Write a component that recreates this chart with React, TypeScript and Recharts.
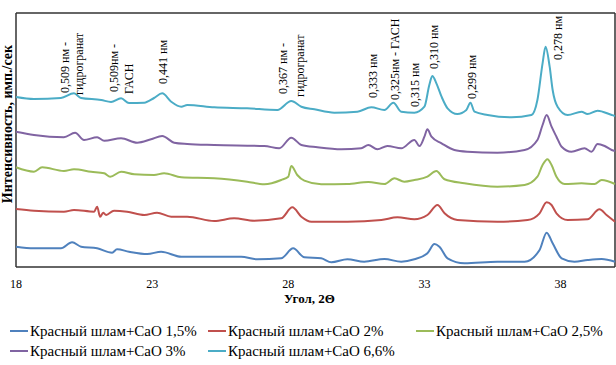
import { LineChart, Line, XAxis, YAxis, ReferenceDot, CartesianGrid, ReferenceLine } from 'recharts'

// angle 2θ and intensity (arbitrary units, curves are offset) for each sample
const ANGLE_15 = [18, 18.66, 19.65, 20.06, 20.39, 20.98, 21.53, 21.71, 22.15, 22.82, 23.33, 24.07, 25.28, 26.27, 26.86, 27.74, 28.18, 28.59, 29.21, 29.58, 30.17, 30.79, 31.53, 32.15, 32.63, 33.11, 33.37, 33.55, 33.85, 34.47, 35.68, 36.68, 37.23, 37.49, 37.71, 38.04, 38.51, 38.99, 39.51, 40]
const INT_15 = [20.3, 18.7, 18.7, 24.7, 20.3, 18.7, 14.3, 17.7, 15.3, 13, 15.3, 10.3, 10.3, 10.3, 7.7, 8.7, 18.7, 9.7, 8.7, 4.7, 7.7, 5.3, 8, 5.3, 7.7, 13.7, 23, 20.3, 8.7, 3.7, 5.3, 5.3, 17, 34.3, 23.7, 8.7, 5.3, 7, 8, 5.3]

const ANGLE_2 = [18, 18.66, 19.76, 20.13, 20.87, 20.98, 21.09, 21.2, 21.31, 21.6, 22.08, 22.71, 23.18, 23.7, 24.29, 25.28, 26.01, 26.75, 27.74, 28.15, 28.48, 28.85, 30.17, 31.42, 32.01, 32.63, 33.11, 33.48, 33.74, 34.21, 35.68, 36.79, 37.23, 37.49, 37.67, 37.85, 38.26, 38.99, 39.43, 39.69, 40]
const INT_2 = [58, 56.3, 55.3, 57, 55.3, 60.3, 50.3, 54.3, 52, 56.3, 55.3, 52, 54.3, 50.3, 50.3, 46, 48.7, 46.3, 48.7, 59.7, 50.3, 45.3, 45.3, 47, 49.7, 47.7, 52, 62, 53.7, 47, 45.3, 47, 53.7, 64.7, 62, 53.7, 47, 47.7, 57.7, 52, 45.3]

const ANGLE_25 = [18, 18.66, 18.96, 19.76, 20.13, 20.76, 21.24, 21.46, 21.86, 22.34, 23.07, 23.44, 24.07, 25.28, 26.49, 27.12, 27.74, 28, 28.11, 28.33, 28.59, 29.21, 30.17, 30.94, 31.53, 31.9, 32.26, 32.63, 33.11, 33.44, 33.74, 34.47, 35.68, 36.68, 37.15, 37.34, 37.52, 37.67, 37.85, 38.15, 38.77, 39.25, 39.51, 40]
const INT_25 = [99.7, 95.3, 99.7, 96, 97.7, 95.3, 93.7, 90.3, 95.3, 92.7, 92, 93.7, 89.7, 88.7, 85.3, 82.7, 87, 90.3, 101, 92, 86.3, 82.7, 83, 85, 83, 88.7, 85.3, 87, 90.3, 96, 87.7, 83.7, 80.3, 82, 90.3, 102, 107.7, 102, 90.3, 83, 83.7, 83, 87, 83]

const ANGLE_3 = [18, 18.66, 19.76, 20.17, 20.5, 20.98, 21.24, 21.86, 22.45, 22.96, 23.37, 23.81, 24.29, 25.28, 27.12, 27.67, 28.11, 28.48, 29.07, 29.95, 30.68, 30.94, 31.27, 31.64, 32.15, 32.63, 32.82, 33, 33.11, 33.26, 33.63, 34.1, 34.58, 35.68, 36.68, 37.15, 37.34, 37.49, 37.67, 37.85, 38.04, 38.4, 38.88, 39.14, 39.36, 39.62, 39.88, 40]
const INT_3 = [135.3, 132, 129.7, 134.3, 127, 129.7, 126.3, 128.7, 124.3, 127.7, 131, 124.3, 123, 122, 121, 118.7, 129.3, 122, 119.7, 117.7, 118.7, 122, 117.7, 121, 118.7, 127, 121, 130.3, 137.7, 130.3, 123.7, 117, 115.3, 114.3, 117, 127, 142, 152, 140.3, 130.3, 120.3, 115.3, 118.7, 115.3, 123, 121, 117, 116]

const ANGLE_66 = [18, 18.66, 19.65, 20.13, 20.39, 21.13, 21.49, 21.86, 22.15, 22.71, 23.07, 23.37, 23.7, 24.07, 24.29, 25.28, 26.49, 27.6, 28.11, 28.48, 28.96, 29.69, 30.54, 31.05, 31.53, 31.86, 32.15, 32.63, 33, 33.18, 33.29, 33.44, 33.63, 33.85, 34.21, 34.54, 34.69, 34.84, 35.32, 36.2, 36.93, 37.15, 37.34, 37.45, 37.6, 37.71, 37.89, 38.26, 38.77, 38.99, 39.36, 39.88, 40]
const INT_66 = [170, 168, 169, 173.7, 169, 167, 165, 168.7, 164, 164.3, 169, 173.7, 165.3, 160.3, 162, 159.7, 158.7, 157, 166, 160.3, 157.7, 154.3, 155.3, 159.7, 157, 164.3, 155.3, 154.3, 160.3, 182, 191, 183.7, 170.3, 158.7, 153, 157, 164.3, 155.3, 152, 149.7, 152, 167, 203.7, 220.3, 200.3, 177, 160.3, 152, 155.3, 153, 156.3, 152, 151]

const SERIES_NAMES = ['Красный шлам+CaO 1,5%', 'Красный шлам+CaO 2%', 'Красный шлам+CaO 2,5%', 'Красный шлам+CaO 3%', 'Красный шлам+CaO 6,6%']
const SERIES_COLORS = ['#4f81bd', '#c0504d', '#9bbb59', '#8064a2', '#4bacc6']

const X_TICKS = [18, 23, 28, 33, 38]
const X_DOMAIN = [18, 40]

// peak annotations: one entry per text line (angle, level of the text start)
const ANN_TEXT = ['0,509 нм -', 'гидрогранат', '0,509нм -', 'ГАСН', '0,441 нм', '0,367 нм -', 'гидрогранат', '0,333 нм', '0,325нм - ГАСН', '0,315 нм', '0,310 нм', '0,299 нм', '0,278 нм']
const ANN_ANGLE = [19.8, 20.32, 21.6, 22.15, 23.4, 27.82, 28.44, 31.13, 31.93, 32.67, 33.37, 34.76, 37.89]
const ANN_LEVEL = [174, 172, 175, 173, 183, 173, 170, 169, 167, 160, 198, 168, 207]

const toPoints = (xs: number[], ys: number[]) => xs.map((x, i) => ({ x, y: ys[i] }))

const series = [
  toPoints(ANGLE_15, INT_15),
  toPoints(ANGLE_2, INT_2),
  toPoints(ANGLE_25, INT_25),
  toPoints(ANGLE_3, INT_3),
  toPoints(ANGLE_66, INT_66),
]

const FONT = 'Liberation Serif, Times New Roman, DejaVu Serif, serif'
const FRAME = '#333'

const rotatedText = (text: string) => (props: any) => {
  const vb = props.viewBox || {}
  const x = vb.x + (vb.width || 0) / 2
  const y = vb.y + (vb.height || 0) / 2
  return (
    <text
      x={x}
      y={y}
      transform={`rotate(-90 ${x} ${y})`}
      textAnchor="start"
      dominantBaseline="central"
      fontSize={12}
      fontFamily={FONT}
      fill="#000"
    >
      {text}
    </text>
  )
}

const xLabel = (props: any) => {
  const vb = props.viewBox
  return (
    <text x={vb.x + vb.width / 2 - 6} y={vb.y + 31} textAnchor="middle" dominantBaseline="central"
      fontSize={13} fontWeight="bold" fontFamily={FONT} fill="#000">
      Угол, 2Θ
    </text>
  )
}

// y title sits left of the plot's left edge
const yLabel = (props: any) => {
  const vb = props.viewBox
  const x = vb.x - 9
  const y = vb.y + 111
  return (
    <text x={x} y={y} transform={`rotate(-90 ${x} ${y})`} textAnchor="middle" dominantBaseline="central"
      fontSize={14} fontWeight="bold" fontFamily={FONT} fill="#000">
      Интенсивность, имп./сек
    </text>
  )
}

// top and bottom edges of the frame
const frameY = ({ offset }: any) => [offset.top, offset.top + offset.height]

const LEGEND_LEFT = [10, 208, 416]

export default function App() {
  return (
    <div style={{ position: 'absolute', left: 0, top: 0, width: 616, height: 365, background: '#fff', fontFamily: FONT }}>
      <LineChart width={616} height={310} margin={{ top: 13, right: 1, left: 16, bottom: 0 }}>
        <CartesianGrid
          stroke={FRAME}
          strokeWidth={1.5}
          vertical={false}
          horizontalCoordinatesGenerator={frameY}
        />
        <XAxis
          type="number"
          dataKey="x"
          domain={X_DOMAIN}
          ticks={X_TICKS}
          height={43}
          tickLine={false}
          axisLine={false}
          tickMargin={6}
          tick={{ fontSize: 12, fill: '#000', fontFamily: FONT }}
          label={{ content: xLabel }}
        />
        <YAxis type="number" domain={[0, 254]} hide />
        <ReferenceLine x={X_DOMAIN[0]} stroke={FRAME} strokeWidth={1.5} label={{ content: yLabel }} />
        <ReferenceLine x={X_DOMAIN[1]} stroke={FRAME} strokeWidth={1.5} />
        {series.map((pts, i) => (
          <Line
            key={SERIES_NAMES[i]}
            data={pts}
            dataKey="y"
            name={SERIES_NAMES[i]}
            type="monotone"
            stroke={SERIES_COLORS[i]}
            strokeWidth={2}
            dot={false}
            isAnimationActive={false}
          />
        ))}
        {ANN_TEXT.map((t, i) => (
          <ReferenceDot
            key={i}
            x={ANN_ANGLE[i]}
            y={ANN_LEVEL[i]}
            r={0}
            fill="none"
            stroke="none"
            label={rotatedText(t)}
          />
        ))}
      </LineChart>
      {SERIES_NAMES.map((name, i) => (
        <div
          key={name}
          style={{
            position: 'absolute',
            left: LEGEND_LEFT[i % 3],
            top: i < 3 ? 322 : 342,
            height: 18,
            display: 'flex',
            alignItems: 'center',
            fontSize: 15,
            color: '#000',
            whiteSpace: 'nowrap',
          }}
        >
          <span style={{ display: 'inline-block', width: 18, height: 2, background: SERIES_COLORS[i], marginRight: 2 }} />
          {name}
        </div>
      ))}
    </div>
  )
}
